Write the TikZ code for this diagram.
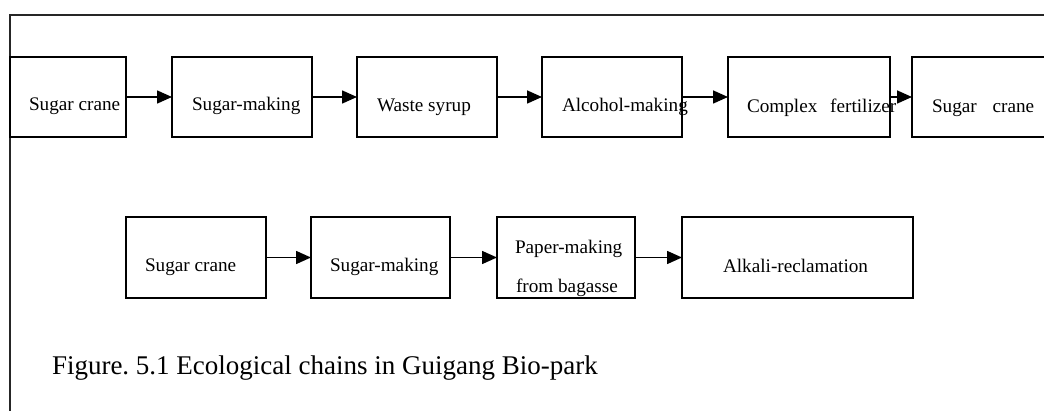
\documentclass[tikz,border=0pt]{standalone}
\usepackage{fontspec}
\setmainfont{Liberation Serif}
\usetikzlibrary{arrows.meta}
\frenchspacing
\tikzset{
  box/.style={draw=black, line width=1.6pt, fill=none, inner sep=0pt, outer sep=0pt, rectangle},
  lbl/.style={anchor=base west, inner sep=0pt, outer sep=0pt, font=\fontsize{19.2}{23}\selectfont, text=black},
  captiontext/.style={anchor=base west, inner sep=0pt, outer sep=0pt, font=\fontsize{27}{32}\selectfont, text=black},
  flow/.style={line width=1.6pt, draw=black, -{Triangle[length=15pt,width=13pt]}},
  frameline/.style={line width=1.6pt, draw=black!85}
}
\begin{document}
\begin{tikzpicture}[x=1pt,y=-1pt]
\useasboundingbox (0,0) rectangle (1044,411);
\clip (0,0) rectangle (1044,411);
\fill[white] (0,0) rectangle (1044,411);
\coordinate (fb) at (10,411);
\coordinate (ftl) at (10,15);
\coordinate (ftr) at (1044,15);
\draw[frameline] (fb) -- (ftl) -- (ftr);
% row 1
\node[box, minimum width=116pt, minimum height=80pt] (a1) at (68,97) {};
\node[box, minimum width=140pt, minimum height=80pt] (a2) at (242,97) {};
\node[box, minimum width=140pt, minimum height=80pt] (a3) at (427,97) {};
\node[box, minimum width=140pt, minimum height=80pt] (a4) at (612,97) {};
\node[box, minimum width=162pt, minimum height=80pt] (a5) at (809,97) {};
\node[box, minimum width=158pt, minimum height=80pt] (a6) at (991,97) {};
\node[lbl] (ta1) at (29,111) {Sugar crane};
\node[lbl] (ta2) at (192,111) {Sugar-making};
\node[lbl] (ta3) at (377,112) {Waste syrup};
\node[lbl] (ta4) at (562,112) {Alcohol-making};
\node[lbl] (ta5) at (747,113) {Complex\hspace*{8pt} fertilizer};
\node[lbl] (ta6) at (932,113) {Sugar\hspace*{11pt} crane};
\draw[flow] (a1.east) -- (a2.west);
\draw[flow] (a2.east) -- (a3.west);
\draw[flow] (a3.east) -- (a4.west);
\draw[flow] (a4.east) -- (a5.west);
\draw[flow] (a5.east) -- (a6.west);
% row 2
\node[box, minimum width=140pt, minimum height=81pt] (b1) at (196,257.5) {};
\node[box, minimum width=139pt, minimum height=81pt] (b2) at (380.5,257.5) {};
\node[box, minimum width=138pt, minimum height=81pt] (b3) at (566,257.5) {};
\node[box, minimum width=231pt, minimum height=81pt] (b4) at (797.5,257.5) {};
\node[lbl] (tb1) at (145,272) {Sugar crane};
\node[lbl] (tb2) at (330,272) {Sugar-making};
\node[lbl] (tb3a) at (515,254) {Paper-making};
\node[lbl] (tb3b) at (516,293) {from bagasse};
\node[lbl] (tb4) at (723,273) {Alkali-reclamation};
\draw[flow] (b1.east) -- (b2.west);
\draw[flow] (b2.east) -- (b3.west);
\draw[flow] (b3.east) -- (b4.west);
% caption
\node[captiontext] (caption) at (52,375) {Figure. 5.1 Ecological chains in Guigang Bio-park};
\end{tikzpicture}
\end{document}
